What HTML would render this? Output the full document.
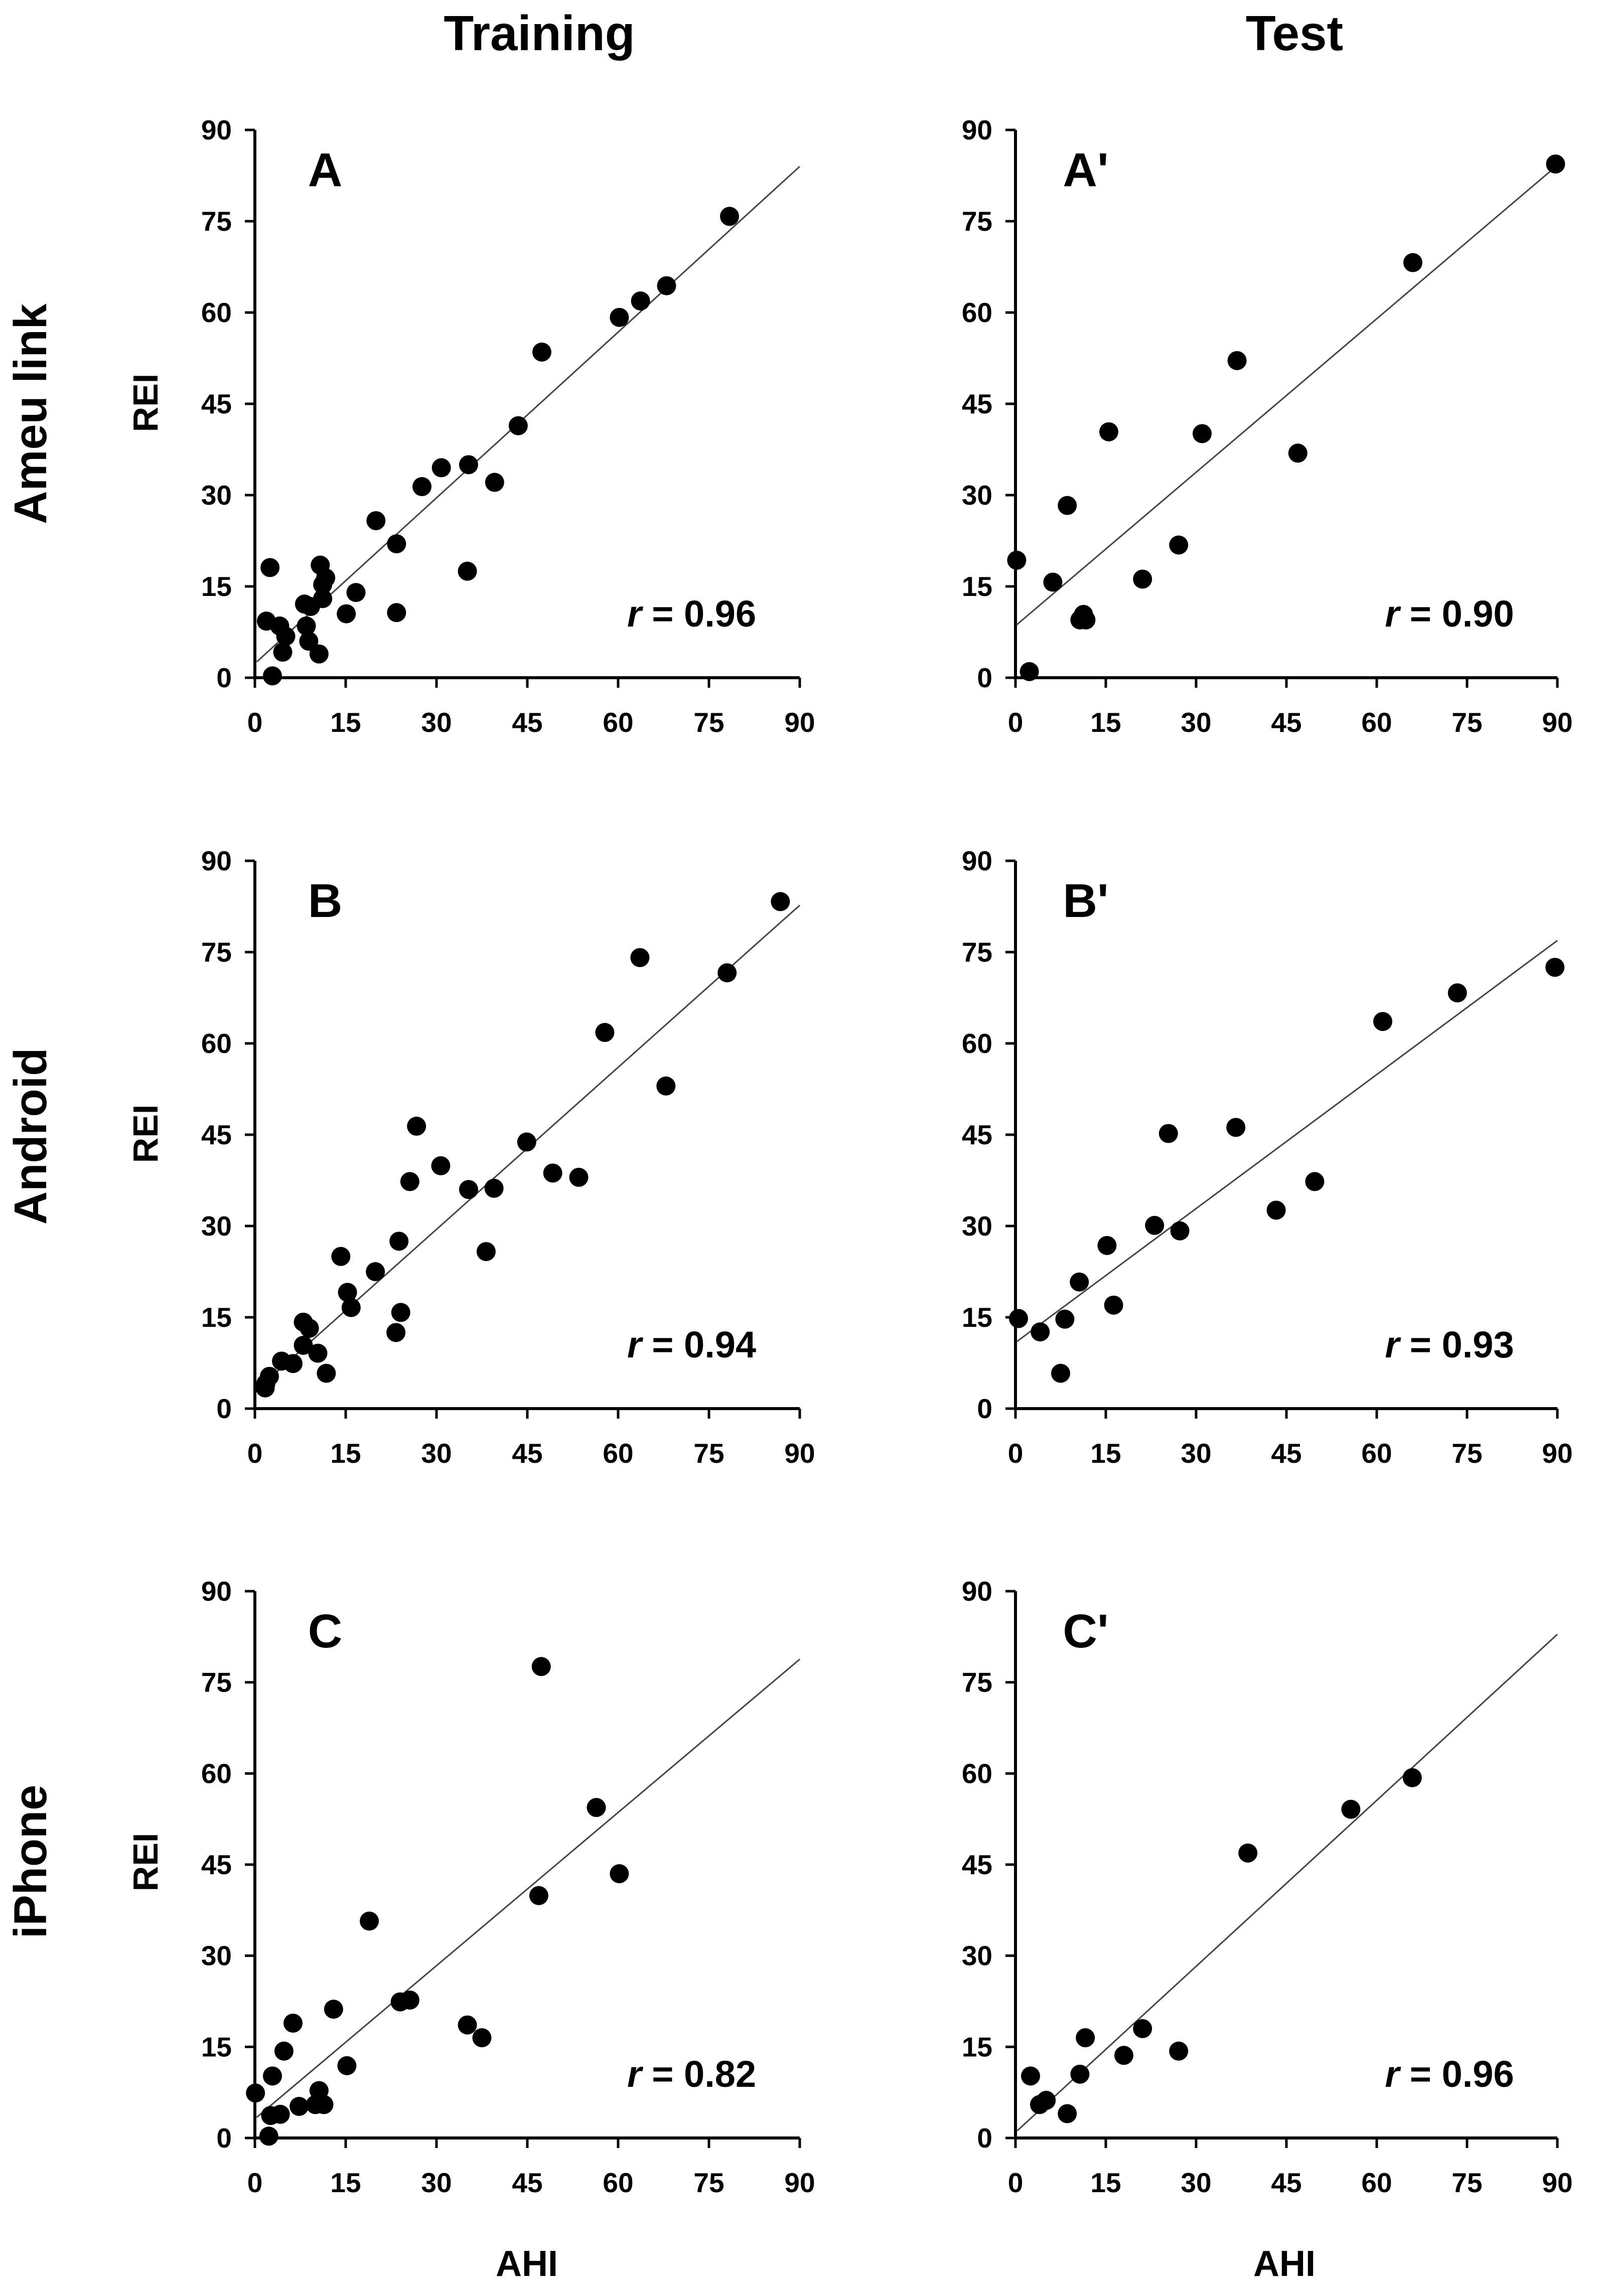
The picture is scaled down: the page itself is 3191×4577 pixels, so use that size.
<!DOCTYPE html>
<html><head><meta charset="utf-8"><title>REI vs AHI</title>
<style>
html,body{margin:0;padding:0;background:#fff;}
svg{display:block;font-family:"Liberation Sans",sans-serif;font-weight:bold;}
</style></head>
<body>
<svg id="fig" xmlns="http://www.w3.org/2000/svg" width="3191" height="4577" viewBox="0 0 3191 4577">
<rect width="3191" height="4577" fill="#fff"/>
<text x="1075" y="100" font-size="98" text-anchor="middle">Training</text>
<text x="2580" y="100" font-size="98" text-anchor="middle">Test</text>
<text transform="translate(92,825) rotate(-90)" font-size="92" text-anchor="middle">Ameu link</text>
<text transform="translate(92,2265) rotate(-90)" font-size="92" text-anchor="middle">Android</text>
<text transform="translate(92,3711) rotate(-90)" font-size="92" text-anchor="middle">iPhone</text>
<text transform="translate(314,803) rotate(-90)" font-size="70" text-anchor="middle">REI</text>
<text transform="translate(314,2260) rotate(-90)" font-size="70" text-anchor="middle">REI</text>
<text transform="translate(314,3712) rotate(-90)" font-size="70" text-anchor="middle">REI</text>
<text x="1050" y="4537" font-size="72" text-anchor="middle">AHI</text>
<text x="2560" y="4537" font-size="72" text-anchor="middle">AHI</text>
</svg>
<script>
// ---- data (AHI = x, REI = y) ----
const panelLetters = ["A","A'","B","B'","C","C'"];
const rValues = ["0.96","0.90","0.94","0.93","0.82","0.96"];
const tickLabels = [0,15,30,45,60,75,90];
const ahiA = [78.4,68,63.7,60.2,47.4,43.5,35.3,30.8,27.6,39.6,20,23.4,35.1,23.4,16.7,15.1,10.8,11.7,11.2,11.2,8.2,9.2,8.5,8.9,10.6,2.5,1.9,4.1,5.1,4.6,2.9];
const reiA = [75.8,64.4,61.9,59.2,53.5,41.4,35,34.5,31.4,32.1,25.8,22,17.5,10.7,14,10.5,18.5,16.4,15.3,13,12.1,11.7,8.5,6,3.9,18.1,9.3,8.5,6.8,4.2,0.3];
const ahiA2 = [89.7,66,36.8,15.5,31,46.9,8.6,27.1,0.2,6.2,21.1,11.3,10.7,11.7,2.3];
const reiA2 = [84.4,68.2,52.1,40.4,40.1,36.9,28.3,21.8,19.3,15.7,16.2,10.4,9.5,9.5,1];
const ahiB = [86.8,63.6,78,57.8,67.9,26.7,44.9,30.7,49.2,53.5,25.6,35.3,39.5,38.2,23.8,14.2,19.9,15.3,15.9,24.1,23.3,8,9,8,10.4,11.8,4.4,6.3,2.4,1.8,1.7];
const reiB = [83.3,74.1,71.6,61.8,53,46.4,43.8,39.9,38.7,38,37.3,36,36.2,25.8,27.5,25,22.5,19.1,16.6,15.8,12.5,14.2,13.2,10.4,9.1,5.8,7.8,7.4,5.3,4.1,3.4];
const ahiB2 = [89.6,73.4,61,36.6,25.4,49.7,43.3,23.1,27.3,15.2,10.6,16.3,0.5,8.2,4.1,7.5];
const reiB2 = [72.5,68.3,63.6,46.2,45.2,37.3,32.6,30.1,29.2,26.8,20.8,17,14.8,14.7,12.6,5.8];
const ahiC = [47.3,56.4,60.2,46.9,18.9,13,24,25.6,35.1,37.5,6.3,4.8,15.2,2.9,0.1,10.6,10,11.4,7.3,2.6,4.2,2.3];
const reiC = [77.6,54.4,43.5,39.9,35.7,21.2,22.4,22.7,18.6,16.5,18.9,14.3,11.9,10.2,7.4,7.8,5.5,5.5,5.2,3.7,3.9,0.3];
const ahiC2 = [65.9,55.7,38.6,21.1,11.6,18,27.1,10.7,2.5,5.1,4,8.6];
const reiC2 = [59.3,54.1,46.9,18,16.5,13.6,14.3,10.5,10.2,6.2,5.5,4];
const fitIntercepts = [2.6,8.7,3.0,11.0,3.4,1.2];
const fitEnds = [84.0,84.2,82.7,76.9,78.8,82.9];
const fitStart = [0.3,0.2,0.2,0.2,0.3,0.3];
const ahiSeries = [ahiA,ahiA2,ahiB,ahiB2,ahiC,ahiC2];
const reiSeries = [reiA,reiA2,reiB,reiB2,reiC,reiC2];

// ---- layout ----
const NS = "http://www.w3.org/2000/svg";
const svg = document.getElementById('fig');
const colX = [[508,1594],[2024,3104]];
const rowY = [[1351,259],[2808,1716],[4262,3172]];
function mk(tag, attrs, parent){
  const e = document.createElementNS(NS, tag);
  for (const k in attrs) e.setAttribute(k, attrs[k]);
  (parent||svg).appendChild(e);
  return e;
}
for (let p = 0; p < 6; p++) {
  const col = p % 2, row = Math.floor(p / 2);
  const x0 = colX[col][0], x1 = colX[col][1];
  const y0 = rowY[row][0], y1 = rowY[row][1];
  const sx = v => x0 + (x1 - x0) * v / 90;
  const sy = v => y0 + (y1 - y0) * v / 90;
  const g = mk('g', {});
  
  
  const ya = mk('line', {x1:x0, y1:y0+3, x2:x0, y2:y1, stroke:'#000', 'stroke-width':6}, g);
  
  
  const xa = mk('line', {x1:x0-3, y1:y0, x2:x1, y2:y0, stroke:'#000', 'stroke-width':6}, g);
  
  
  tickLabels.forEach(t => {
    const yt = mk('line', {x1:x0-20, y1:sy(t), x2:x0, y2:sy(t), stroke:'#000', 'stroke-width':5}, g);
    
    
    const xt = mk('line', {x1:sx(t), y1:y0, x2:sx(t), y2:y0+20, stroke:'#000', 'stroke-width':5}, g);
    
    
    const yl = mk('text', {x:x0-46, y:sy(t)+19, 'font-size':55, 'text-anchor':'end'}, g);
    yl.textContent = t;
    
    
    const xl = mk('text', {x:sx(t), y:y0+108, 'font-size':55, 'text-anchor':'middle'}, g);
    xl.textContent = t;
    
    
  });
  const fl = mk('line', {x1:sx(fitStart[p]), y1:sy(fitIntercepts[p]), x2:sx(90), y2:sy(fitEnds[p]), stroke:'#444', 'stroke-width':3}, g);
  
  
  ahiSeries[p].forEach((v, i) => {
    const c = mk('circle', {cx:sx(v), cy:sy(reiSeries[p][i]), r:19, fill:'#000'}, g);
    
    
  });
  const pl = mk('text', {x:x0+140, y:y1+112, 'font-size':95, 'text-anchor':'middle'}, g);
  pl.textContent = panelLetters[p];
  
  
  const rl = mk('text', {x:x0+(x1-x0)*0.92, y:y0-102, 'font-size':74, 'text-anchor':'end'}, g);
  
  
  const ri = mk('tspan', {'font-style':'italic'}, rl);
  ri.textContent = 'r';
  
  
  const rv = mk('tspan', {}, rl);
  rv.textContent = ' = ' + rValues[p];
  
  
}
</script>
</body></html>
